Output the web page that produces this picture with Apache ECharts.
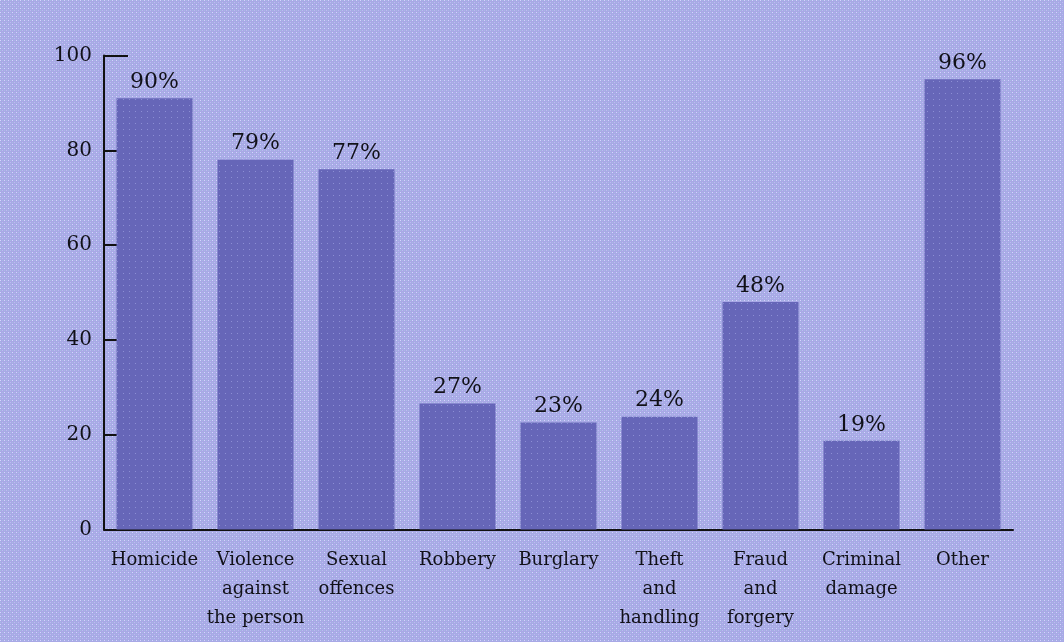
<!DOCTYPE html>
<html>
<head>
<meta charset="utf-8">
<script src="https://cdn.jsdelivr.net/npm/echarts@6/dist/echarts.min.js"></script>
<style>
  html, body { margin: 0; padding: 0; }
  #main { width: 1064px; height: 642px; image-rendering: pixelated; }
</style>
</head>
<body>
<div id="main"></div>
<script>
// categories along the bottom
var categories = ['Homicide', 'Violence\nagainst\nthe person', 'Sexual\noffences', 'Robbery',
  'Burglary', 'Theft\nand\nhandling', 'Fraud\nand\nforgery', 'Criminal\ndamage', 'Other'];
// bar heights as drawn
var values = [91, 78, 76, 26.6, 22.6, 23.8, 48, 18.7, 95];
// percentages printed above the bars
var pctLabels = [90, 79, 77, 27, 23, 24, 48, 19, 96];
var yTicks = [0, 20, 40, 60, 80, 100];

// little dither tiles, like the old gif
function tile(size, base, dots) {
  var c = document.createElement('canvas');
  c.width = size; c.height = size;
  var ctx = c.getContext('2d');
  ctx.fillStyle = base;
  ctx.fillRect(0, 0, size, size);
  dots.forEach(function (d) {
    ctx.fillStyle = d[2];
    ctx.fillRect(d[0], d[1], 1, 1);
  });
  return c;
}

var bgTile = tile(4, '#a8a8e6', [[0, 0, '#d4d4ff'], [2, 0, '#a6bce0'], [0, 2, '#a6bce0'], [2, 2, '#bcbcf2']]);
document.getElementById('main').style.backgroundImage = 'url(' + bgTile.toDataURL() + ')';

var barTile = tile(6, '#6666b8', [[3, 3, '#8c8ed4']]);

var font = 'DejaVu Serif';
var myChart = echarts.init(document.getElementById('main'));
var option = {
  backgroundColor: 'transparent',
  animation: false,
  grid: { left: 104, right: 51, top: 55.5, bottom: 112.5, containLabel: false },
  xAxis: {
    type: 'category',
    data: categories,
    axisLine: { lineStyle: { color: '#111', width: 2 } },
    axisTick: { show: false },
    axisLabel: {
      interval: 0,
      margin: 16,
      fontFamily: font,
      fontSize: 18,
      lineHeight: 29,
      color: '#111118'
    }
  },
  yAxis: {
    type: 'value',
    min: yTicks[0],
    max: yTicks[yTicks.length - 1],
    interval: yTicks[1] - yTicks[0],
    splitLine: { show: false },
    axisLine: { show: true, lineStyle: { color: '#111', width: 2 } },
    axisTick: { show: true, inside: true, length: 24, lineStyle: { color: '#111', width: 2 } },
    axisLabel: {
      margin: 12,
      fontFamily: font,
      fontSize: 20,
      color: '#111118'
    }
  },
  series: [{
    type: 'bar',
    data: values,
    barWidth: 76,
    itemStyle: { color: { image: barTile, repeat: 'repeat' } },
    label: {
      show: true,
      position: 'top',
      distance: 5,
      fontFamily: font,
      fontSize: 22,
      color: '#111118',
      formatter: function (p) { return pctLabels[p.dataIndex] + '%'; }
    }
  }]
};
myChart.setOption(option);
</script>
</body>
</html>
